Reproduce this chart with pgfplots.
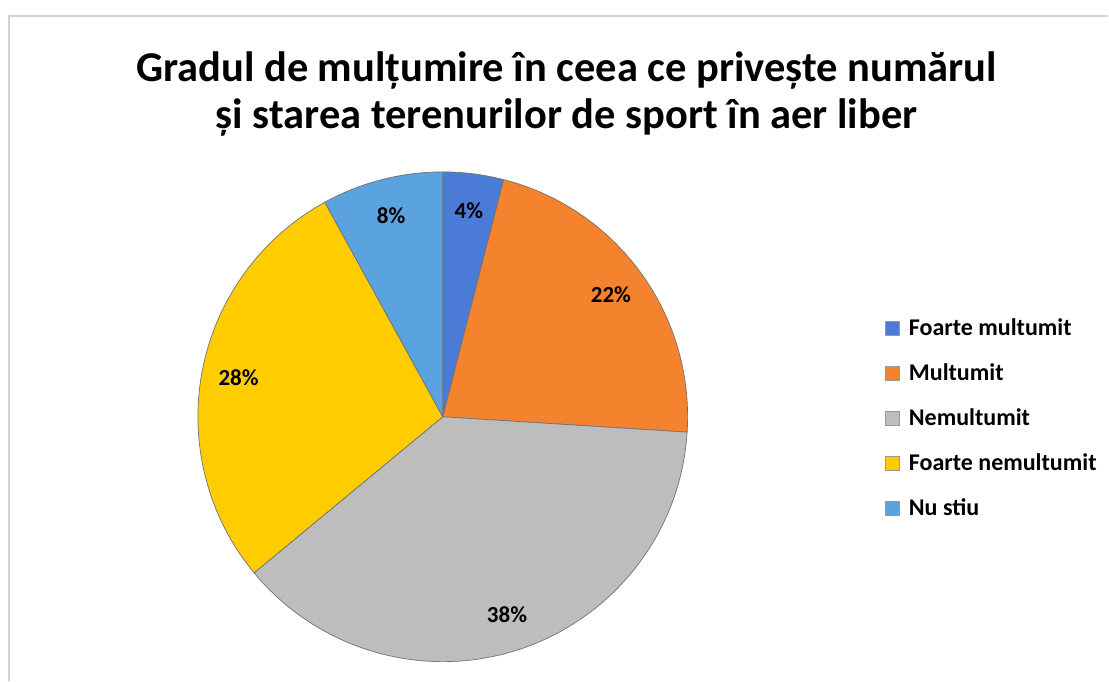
\documentclass[border=0pt]{standalone}
\usepackage{pgfplots}
\pgfplotsset{compat=1.18}
\usepackage{pgfplotstable}
\usepackage{fontspec}
\setmainfont{Carlito}

\definecolor{cA}{HTML}{4A7BD6}
\definecolor{cB}{HTML}{F5822C}
\definecolor{cC}{HTML}{BDBDBD}
\definecolor{cD}{HTML}{FFCC00}
\definecolor{cE}{HTML}{5AA2E0}

\pgfplotstableread[col sep=comma]{
label,value
Foarte multumit,4
Multumit,22
Nemultumit,38
Foarte nemultumit,28
Nu stiu,8
}\piedata

\begin{document}
\begin{tikzpicture}
\begin{axis}[
    x=1pt, y=1pt,
    xmin=0, xmax=1109, ymin=0, ymax=681,
    scale only axis,
    hide axis,
    clip=false,
    legend style={at={(axis cs:882,365)}, anchor=north west, draw=none, fill=none,
        font=\fontsize{24}{27}\selectfont\bfseries, row sep=24.6pt,
        nodes={inner sep=1pt}},
    legend cell align=left,
    legend image code/.code={\fill[#1, draw=black!40] (0pt,-7pt) rectangle (14pt,7pt);
        \path[draw=none] (0pt,0pt) -- (23pt,0pt);},
]
% page extent and frame of the chart area
\path (axis cs:0,0) rectangle (axis cs:1109,681);
\draw[black!18, line width=1.2pt] (axis cs:9,0) -- (axis cs:9,665) -- (axis cs:1109,665);

\pgfplotsextra{
  \xdef\cum{90}
  \foreach \i/\c in {0/cA,1/cB,2/cC,3/cD,4/cE} {
    \pgfplotstablegetelem{\i}{value}\of\piedata
    \let\v\pgfplotsretval
    \pgfmathsetmacro\e{\cum-3.6*\v}
    \pgfmathsetmacro\m{\cum-1.8*\v}
    \fill[\c, draw=black!55, line width=0.7pt]
      (axis cs:443,264) -- ++(\cum:245pt) arc[start angle=\cum, end angle=\e, radius=245pt] -- cycle;
    \path (axis cs:443,264) ++(\m:208pt)
      node[font=\fontsize{23}{26}\selectfont\bfseries] {\v\%};
    \xdef\cum{\e}
  }
}

\node[align=center, font=\fontsize{42.5}{47}\selectfont\bfseries]
  at (axis cs:567,587) {Gradul de mulțumire în ceea ce privește numărul\\și starea terenurilor de sport în aer liber};

\addlegendimage{cA}\addlegendentry{Foarte multumit}
\addlegendimage{cB}\addlegendentry{Multumit}
\addlegendimage{cC}\addlegendentry{Nemultumit}
\addlegendimage{cD}\addlegendentry{Foarte nemultumit}
\addlegendimage{cE}\addlegendentry{Nu stiu}
\end{axis}
\end{tikzpicture}
\end{document}
